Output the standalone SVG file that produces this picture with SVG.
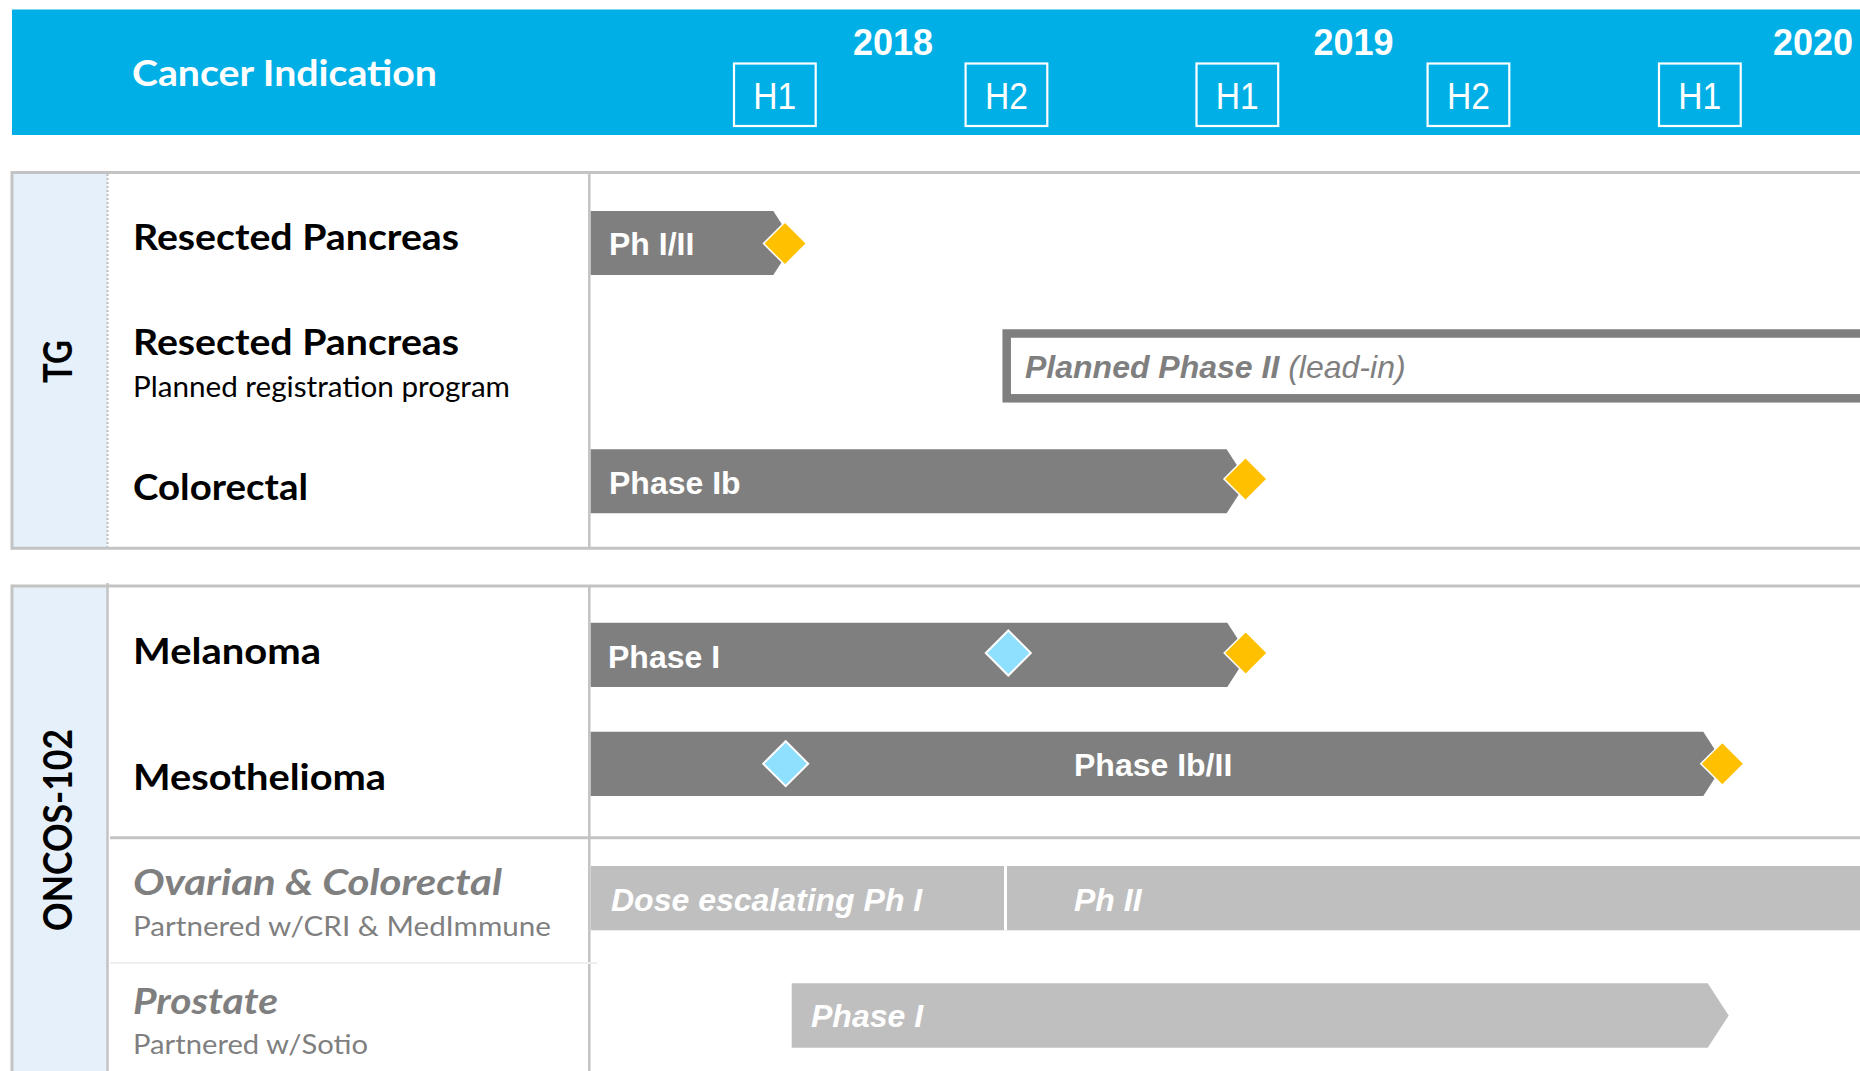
<svg xmlns="http://www.w3.org/2000/svg" width="1860" height="1071" viewBox="0 0 1860 1071">
<defs>
<style>
.hdr{fill:#00AFE6}
.hbox{fill:none;stroke:#FFFFFF;stroke-width:2.2}
.htxt{font-family:"Liberation Sans",Arial,sans-serif;font-size:36px;fill:#FFFFFF;text-anchor:middle}
.year{font-family:"Liberation Sans",Arial,sans-serif;font-size:36px;font-weight:bold;fill:#FFFFFF;text-anchor:middle}
.lbl{font-family:Lato,"Liberation Sans",sans-serif;font-size:37px;font-weight:bold;fill:#000000}
.sub{font-family:Lato,"Liberation Sans",sans-serif;font-size:28px;fill:#000000}
.lblg{font-family:Lato,"Liberation Sans",sans-serif;font-size:37px;font-weight:bold;font-style:italic;fill:#7F7F7F}
.subg{font-family:Lato,"Liberation Sans",sans-serif;font-size:27px;fill:#7F7F7F}
.grp{font-family:Lato,"Liberation Sans",sans-serif;font-size:40px;font-weight:bold;fill:#000000;text-anchor:middle}
.bar{fill:#7F7F7F}
.lbar{fill:#BFBFBF}
.btxt{font-family:"Liberation Sans",Arial,sans-serif;font-size:32px;font-weight:bold;fill:#FFFFFF}
.bitxt{font-family:"Liberation Sans",Arial,sans-serif;font-size:32px;font-weight:bold;font-style:italic;fill:#FFFFFF}
.ms{fill:#FFC000;stroke:#FFFFFF;stroke-width:1.5}
.mb{fill:#8FDFFF;stroke:#FFFFFF;stroke-width:2}
.grid{stroke:#C3C3C3;stroke-width:3;fill:none}
.thin{stroke:#C3C3C3;stroke-width:2.5;fill:none}
.col{fill:#E6F0FA}
</style>
</defs>

<g id="header">
<rect class="hdr" x="12" y="9.5" width="1848" height="125.5"/>
<text class="lbl" x="132" y="86" fill="#FFFFFF" style="fill:#FFFFFF" textLength="305" lengthAdjust="spacingAndGlyphs">Cancer Indication</text>
<text class="year" x="893" y="54.5">2018</text>
<text class="year" x="1353.5" y="54.5">2019</text>
<text class="year" x="1813" y="54.5">2020</text>
<rect class="hbox" x="734" y="63.5" width="81.7" height="62.5"/>
<text class="htxt" x="774.8" y="108.5" textLength="43" lengthAdjust="spacingAndGlyphs">H1</text>
<rect class="hbox" x="965.6" y="63.5" width="81.7" height="62.5"/>
<text class="htxt" x="1006.4" y="108.5" textLength="43" lengthAdjust="spacingAndGlyphs">H2</text>
<rect class="hbox" x="1196.5" y="63.5" width="81.7" height="62.5"/>
<text class="htxt" x="1237.3" y="108.5" textLength="43" lengthAdjust="spacingAndGlyphs">H1</text>
<rect class="hbox" x="1427.6" y="63.5" width="81.7" height="62.5"/>
<text class="htxt" x="1468.4" y="108.5" textLength="43" lengthAdjust="spacingAndGlyphs">H2</text>
<rect class="hbox" x="1659" y="63.5" width="81.7" height="62.5"/>
<text class="htxt" x="1699.8" y="108.5" textLength="43" lengthAdjust="spacingAndGlyphs">H1</text>
</g>

<g id="grid">
<rect class="col" x="12" y="172.5" width="95.5" height="375.8"/>
<line class="grid" x1="12" y1="172.5" x2="1860" y2="172.5"/>
<line class="grid" x1="12" y1="548.3" x2="1860" y2="548.3"/>
<line class="grid" x1="12" y1="171" x2="12" y2="549.8"/>
<line x1="107.5" y1="174" x2="107.5" y2="547" stroke="#BDBDBD" stroke-width="2" stroke-dasharray="2 2"/>
<line class="thin" x1="589.3" y1="172.5" x2="589.3" y2="548.3"/>

<rect class="col" x="12" y="586" width="95.5" height="485"/>
<line class="grid" x1="12" y1="586" x2="1860" y2="586"/>
<line class="grid" x1="12" y1="584.5" x2="12" y2="1071"/>
<line class="thin" x1="107.5" y1="583" x2="107.5" y2="1071"/>
<line class="thin" x1="589.3" y1="586" x2="589.3" y2="1071"/>
<line class="grid" x1="110" y1="837.7" x2="1860" y2="837.7"/>
<line x1="110" y1="963" x2="597" y2="963" stroke="#EEEEEE" stroke-width="2"/>
</g>

<g id="group-tg">
<text class="grp" transform="translate(72,361.5) rotate(-90)" textLength="43" lengthAdjust="spacingAndGlyphs">TG</text>
</g>
<g id="group-oncos">
<text class="grp" transform="translate(72,830) rotate(-90)" textLength="202" lengthAdjust="spacingAndGlyphs">ONCOS-102</text>
</g>

<g id="row-resected-1">
<text class="lbl" x="133" y="250" textLength="326" lengthAdjust="spacingAndGlyphs">Resected Pancreas</text>
<polygon class="bar" points="590.7,211 773.3,211 794,243 773.3,275 590.7,275"/>
<text class="btxt" x="609" y="255">Ph I/II</text>
<polygon class="ms" points="785,222 806.5,243.5 785,265 763.5,243.5"/>
</g>

<g id="row-resected-2">
<text class="lbl" x="133" y="355" textLength="326" lengthAdjust="spacingAndGlyphs">Resected Pancreas</text>
<text class="sub" x="133" y="396.7" textLength="377" lengthAdjust="spacingAndGlyphs">Planned registration program</text>
<rect x="1006.7" y="333.5" width="900" height="64.8" fill="#FFFFFF" stroke="#7F7F7F" stroke-width="8.5"/>
<text x="1025" y="377.5" font-family="'Liberation Sans',Arial,sans-serif" font-size="32" font-style="italic" fill="#7F7F7F"><tspan font-weight="bold">Planned Phase II</tspan> (lead-in)</text>
</g>

<g id="row-colorectal">
<text class="lbl" x="133" y="500" textLength="175" lengthAdjust="spacingAndGlyphs">Colorectal</text>
<polygon class="bar" points="590.7,449.3 1226.6,449.3 1247.3,481.3 1226.6,513.3 590.7,513.3"/>
<text class="btxt" x="609" y="493.5">Phase Ib</text>
<polygon class="ms" points="1245.5,457.5 1267,479 1245.5,500.5 1224,479"/>
</g>

<g id="row-melanoma">
<text class="lbl" x="133" y="664" textLength="188" lengthAdjust="spacingAndGlyphs">Melanoma</text>
<polygon class="bar" points="590.7,622.7 1227.3,622.7 1248,654.8 1227.3,687 590.7,687"/>
<text class="btxt" x="608" y="667.5">Phase I</text>
<polygon class="mb" points="1008.3,630.5 1030.8,653 1008.3,675.5 985.8,653"/>
<polygon class="ms" points="1245.7,631.5 1267.2,653 1245.7,674.5 1224.2,653"/>
</g>

<g id="row-mesothelioma">
<text class="lbl" x="133" y="790" textLength="253" lengthAdjust="spacingAndGlyphs">Mesothelioma</text>
<polygon class="bar" points="590.7,731.7 1703.3,731.7 1724,763.8 1703.3,796 590.7,796"/>
<text class="btxt" x="1074" y="776">Phase Ib/II</text>
<polygon class="mb" points="785.7,741.2 808.2,763.7 785.7,786.2 763.2,763.7"/>
<polygon class="ms" points="1722.3,742.2 1743.8,763.7 1722.3,785.2 1700.8,763.7"/>
</g>

<g id="row-ovarian">
<text class="lblg" x="133" y="895" textLength="369" lengthAdjust="spacingAndGlyphs">Ovarian &amp; Colorectal</text>
<text class="subg" x="133" y="936" textLength="418" lengthAdjust="spacingAndGlyphs">Partnered w/CRI &amp; MedImmune</text>
<rect class="lbar" x="590.7" y="866" width="1270" height="64.3"/>
<line x1="1005.5" y1="866" x2="1005.5" y2="930.3" stroke="#FFFFFF" stroke-width="3"/>
<text class="bitxt" x="611" y="911">Dose escalating Ph I</text>
<text class="bitxt" x="1074" y="911">Ph II</text>
</g>

<g id="row-prostate">
<text class="lblg" x="133" y="1014" textLength="145" lengthAdjust="spacingAndGlyphs">Prostate</text>
<text class="subg" x="133" y="1054" textLength="235" lengthAdjust="spacingAndGlyphs">Partnered w/Sotio</text>
<polygon class="lbar" points="791.7,983.3 1707.7,983.3 1728.7,1015.5 1707.7,1047.7 791.7,1047.7"/>
<text class="bitxt" x="811" y="1027">Phase I</text>
</g>
</svg>
